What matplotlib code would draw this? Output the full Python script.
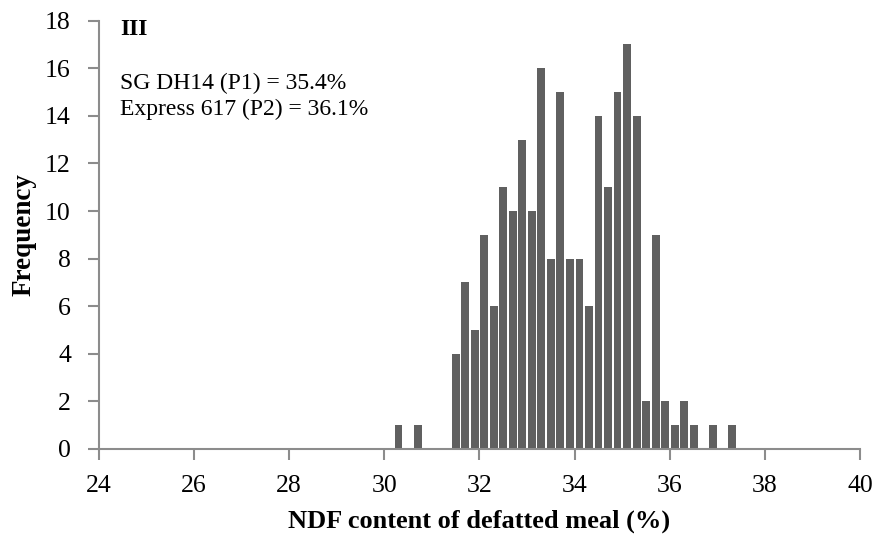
import matplotlib
matplotlib.use("Agg")
import matplotlib.pyplot as plt

# histogram of NDF content, 0.2 % wide classes (class mid-points)
bin_centers = [30.3, 30.7, 31.5, 31.7, 31.9, 32.1, 32.3, 32.5, 32.7, 32.9,
               33.1, 33.3, 33.5, 33.7, 33.9, 34.1, 34.3, 34.5, 34.7, 34.9,
               35.1, 35.3, 35.5, 35.7, 35.9, 36.1, 36.3, 36.5, 36.9, 37.3]
counts = [1, 1, 4, 7, 5, 9, 6, 11, 10, 13,
          10, 16, 8, 15, 8, 8, 6, 14, 11, 15,
          17, 14, 2, 9, 2, 1, 2, 1, 1, 1]
x_ticks = [24, 26, 28, 30, 32, 34, 36, 38, 40]
y_ticks = [0, 2, 4, 6, 8, 10, 12, 14, 16, 18]
parents = ["SG DH14 (P1) = 35.4%", "Express 617 (P2) = 36.1%"]

plt.rcParams['font.family'] = ['Liberation Serif', 'DejaVu Serif']
axis_grey = '#8c8c8c'

fig = plt.figure(figsize=(8.85, 5.37), dpi=100)
ax = fig.add_axes([0.1115, 0.1639, 0.9721 - 0.1115, 0.9615 - 0.1639])

ax.bar(bin_centers, counts, width=0.165, color='#606060', edgecolor='none')

ax.set_xlim(24, 40)
ax.set_ylim(0, 18)
ax.set_xticks(x_ticks)
ax.set_yticks(y_ticks)

for side in ['top', 'right']:
  ax.spines[side].set_visible(False)
for side in ['left', 'bottom']:
  ax.spines[side].set_color(axis_grey)
  ax.spines[side].set_linewidth(1.5)

ax.tick_params(axis='both', direction='out', length=8, width=1.5,
               color=axis_grey, labelsize=18.5)
ax.tick_params(axis='y', pad=12)
ax.tick_params(axis='x', pad=11)

ax.set_xlabel('NDF content of defatted meal (%)', fontsize=19,
              fontweight='bold', labelpad=9)
ax.set_ylabel('Frequency', fontsize=19.5, fontweight='bold', labelpad=6.5)

# panel tag and parental values
fig.text(120 / 885, 1 - 35 / 537, 'III', fontsize=17, fontweight='bold',
         va='baseline')
fig.text(120 / 885, 1 - 89 / 537, parents[0], fontsize=17, va='baseline')
fig.text(120 / 885, 1 - 115 / 537, parents[1], fontsize=17, va='baseline')

fig.savefig('out.png', dpi=100)
